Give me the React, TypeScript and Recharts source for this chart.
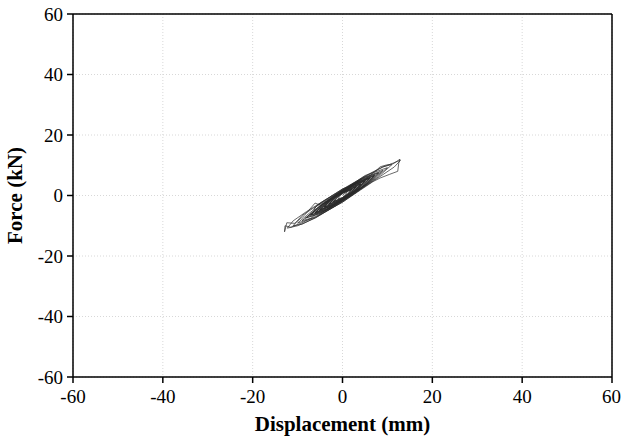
import React from 'react';
import {
    LineChart,
    Line,
    XAxis,
    YAxis,
    CartesianGrid,
    ReferenceLine,
} from 'recharts';

const disp = [
    0, 0.5, 1, 0.5, 0, -0.5, -1, -0.5, 0,
    1, 2, 1.3, 0, -1, -2, -1.2, 0,
    1, 2.1, 1.2, 0, -1.1, -2.1, -1, 0,
    1.5, 3, 2, 0.5, -1.5, -3, -2, -0.5,
    1.5, 3.1, 1.9, 0, -1.6, -3.1, -1.8, 0,
    2, 4, 2.8, 1, -1, -2.5, -4, -2.8, -1, 1,
    2.2, 4.1, 2.6, 0, -2.2, -4.1, -2.6, 0,
    2.5, 5, 3.5, 1, -1.5, -5, -3.5, -1, 1.5,
    3, 5.2, 3.2, 0, -3, -5.2, -3.2, 0,
    3, 6, 4, 1, -2, -6, -4, -1, 2,
    4, 6.3, 4.2, 0, -3.5, -6.2, -4.1, 0,
    1.5, 3, 1.5, -0.5, -1.5, -3, -1.5, 0.5,
    2, 4, 2, -0.5, -2, -4, -2, 0.5,
    2.5, 5, 2.5, -0.5, -2.5, -5, -2.5, 0.5,
    3, 6, 3, -0.5, -3, -6, -3, 0.5,
    1, 2.2, 1, 0, -1, -2.2, -1, 0,
    1.5, 3.2, 1.6, 0, -1.5, -3.2, -1.6, 0,
    2, 4.2, 2.2, -0.3, -2, -4.2, -2.2, 0.3,
    2.5, 5.1, 2.8, -0.2, -2.5, -5.1, -2.8, 0.2,
    3, 6.1, 3.5, 0, -3, -6.1, -3.5, 0,
    3.5, 7.1, 4, 0, -3.5, -7.1, -4, 0,
    3.5, 7, 5, 2, -1, -4, -7, -5, -2, 1,
    4.5, 7.2, 4.8, 0, -4.5, -7.3, -4.8, 0,
    4, 8, 5.5, 2, -2, -5, -8, -5.5, -2, 2,
    5, 8.2, 5.3, 0, -5, -8.3, -5.3, 0,
    4.5, 9, 6, 2, -3, -6, -7, -9, -6.5, -6, -3, 1,
    5, 10, 7, 3, -2, -6, -10, -8, -6.5, -5.5, -2, 2,
    6, 9, 11, 8, 5, 0, -6, -9, -11, -9, -6.5, -4.5, 0,
    4, 7, 8.4, 9.8, 11.2, 12.8, 12.5, 12.3, 10.5, 8.4, 6.8, 4, 0, -5, -9, -11.5, -12.8, -12.9, -12.4, -10.6, -8.5, -6.1, -5, -3, 0,
    5, 9, 12.3, 12.9, 11.5, 8, 4, 0, -6, -10, -12.3, -11, -8, -4, 0,
];

const force = [
    0, 0.8, 1.0, 0.1, -0.7, -0.9, -1.0, -0.1, 0.7,
    1.5, 2.0, 0.6, -0.9, -1.5, -2.0, -0.6, 0.9,
    1.4, 2.1, 0.5, -1.0, -1.6, -2.1, -0.4, 1.0,
    2.0, 2.9, 1.1, -0.6, -2.1, -2.9, -1.0, 0.6,
    2.1, 3.0, 0.9, -1.1, -2.2, -3.0, -0.8, 1.1,
    2.8, 3.8, 1.7, -0.2, -2.0, -3.1, -3.8, -1.7, 0.2, 2.0,
    3.0, 3.9, 1.5, -1.2, -3.0, -3.9, -1.5, 1.2,
    3.5, 4.8, 2.4, -0.3, -2.7, -4.7, -2.4, 0.3, 2.6,
    3.9, 5.0, 1.9, -1.3, -3.8, -4.9, -2.0, 1.3,
    4.1, 5.6, 2.7, -0.5, -3.2, -5.5, -2.8, 0.4, 3.2,
    4.9, 5.9, 2.6, -1.4, -4.6, -5.8, -2.6, 1.4,
    1.9, 2.8, 0.7, -1.3, -2.0, -2.8, -0.6, 1.3,
    2.7, 3.7, 1.0, -1.7, -2.8, -3.7, -1.0, 1.7,
    3.4, 4.7, 1.2, -1.8, -3.5, -4.6, -1.1, 1.8,
    4.2, 5.7, 1.6, -2.0, -4.2, -5.6, -1.5, 2.0,
    1.3, 2.1, 0.3, -0.7, -1.3, -2.1, -0.3, 0.7,
    1.6, 3.0, 0.9, -0.8, -1.7, -3.0, -0.9, 0.8,
    2.4, 3.9, 1.2, -1.4, -2.5, -3.9, -1.2, 1.4,
    3.0, 4.9, 1.6, -1.5, -3.1, -4.8, -1.6, 1.5,
    3.8, 5.8, 2.2, -1.7, -3.8, -5.7, -2.2, 1.7,
    4.3, 6.6, 2.3, -1.8, -4.4, -6.5, -2.4, 1.8,
    4.6, 6.5, 3.6, 0.4, -2.5, -5.0, -6.4, -3.7, -0.5, 2.6,
    5.4, 6.7, 3.2, -1.5, -5.5, -6.6, -3.3, 1.5,
    5.2, 7.4, 4.0, 0.3, -3.6, -5.9, -7.3, -4.0, -0.4, 3.6,
    6.0, 7.6, 3.6, -1.6, -6.0, -7.5, -3.7, 1.6,
    5.8, 8.3, 4.4, 0.2, -4.4, -6.2, -7.5, -8.3, -5.5, -3.8, -1.0, 2.6,
    6.6, 9.2, 5.4, 1.0, -3.8, -7.2, -9.1, -6.6, -4.8, -3.0, 0.3, 3.8,
    7.2, 9.5, 10.2, 6.2, 3.1, -2.2, -7.3, -9.5, -10.0, -6.6, -4.2, -2.2, 2.2,
    4.2, 7.6, 9.5, 10.1, 10.4, 12.0, 10.5, 8.0, 7.0, 5.8, 4.6, 1.8, -2.2, -6.2, -9.0, -10.5, -10.0, -12.0, -9.0, -9.2, -6.6, -2.5, -3.2, -1.2, 2.0,
    6.2, 9.4, 11.3, 11.6, 9.4, 5.9, 2.0, -2.0, -7.4, -10.0, -10.8, -8.4, -5.3, -1.6, 1.8,
];

const ticks = [-60, -40, -20, 0, 20, 40, 60];

const data = disp.map((d, i) => ({ d, f: force[i] }));

const serif = '"Liberation Serif", "Times New Roman", serif';
const tickStyle = { fontFamily: serif, fontSize: 19, fill: '#000' };
const titleStyle = { fontFamily: serif, fontSize: 21, fontWeight: 'bold', fill: '#000' };

export default function App() {
    return (
        <div style={{ position: 'absolute', left: 0, top: 0, background: '#fff', fontFamily: serif }}>
            <LineChart width={621} height={441} data={data} margin={{ top: 14, right: 9, left: 15, bottom: 14 }} style={{ fontFamily: serif }}>
                <CartesianGrid stroke="#d8d8d8" strokeDasharray="1 2" horizontalValues={ticks} verticalValues={ticks} />
                <XAxis
                    dataKey="d"
                    type="number"
                    domain={[-60, 60]}
                    ticks={ticks}
                    allowDataOverflow
                    height={50}
                    tickSize={6}
                    tickMargin={7}
                    tick={tickStyle}
                    axisLine={{ stroke: '#000', strokeWidth: 1.5 }}
                    tickLine={{ stroke: '#000', strokeWidth: 1.5 }}
                    label={{ value: 'Displacement (mm)', position: 'insideBottom', offset: -4, style: titleStyle }}
                />
                <YAxis
                    dataKey="f"
                    type="number"
                    domain={[-60, 60]}
                    ticks={ticks}
                    allowDataOverflow
                    width={58}
                    tickSize={6}
                    tickMargin={4}
                    tick={tickStyle}
                    axisLine={{ stroke: '#000', strokeWidth: 1.5 }}
                    tickLine={{ stroke: '#000', strokeWidth: 1.5 }}
                    label={{ value: 'Force (kN)', angle: -90, position: 'insideLeft', offset: 0, style: { ...titleStyle, textAnchor: 'middle' } }}
                />
                {/* closing frame on top and right */}
                <ReferenceLine y={60} stroke="#000" strokeWidth={1.5} />
                <ReferenceLine x={60} stroke="#000" strokeWidth={1.5} />
                <Line
                    type="linear"
                    dataKey="f"
                    stroke="#2a2a2a"
                    strokeWidth={0.7}
                    dot={false}
                    isAnimationActive={false}
                />
            </LineChart>
        </div>
    );
}
